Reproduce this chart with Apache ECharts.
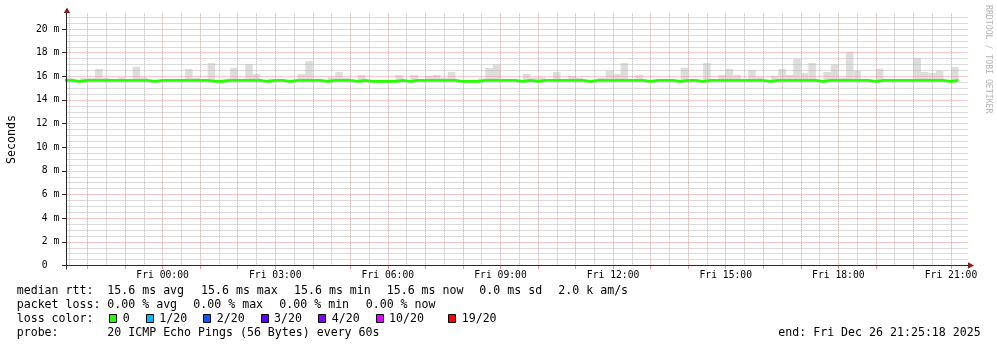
<!DOCTYPE html>
<html>
<head>
<meta charset="utf-8">
<script src="https://cdn.jsdelivr.net/npm/echarts@6/dist/echarts.min.js"></script>
<style>
html,body{margin:0;padding:0;background:#ffffff;}
#chart{width:997px;height:347px;}
</style>
</head>
<body>
<div id="chart"></div>
<script>
// ---------------- DATA ----------------
// 12-minute bins, hours relative to Fri 00:00 (first bin starts Thu 21:24)
const binFirstStartHour = -2.6;
const binLengthHours = 0.2;

// median rtt per bin (ms)
const medianMs = [
  15.66, 15.58, 15.66, 15.66, 15.66, 15.66, 15.66, 15.66, 15.66, 15.66,
  15.66, 15.58, 15.66, 15.66, 15.66, 15.66, 15.66, 15.66, 15.66, 15.58,
  15.58, 15.66, 15.66, 15.66, 15.66, 15.66, 15.58, 15.66, 15.66, 15.58,
  15.66, 15.66, 15.66, 15.66, 15.58, 15.66, 15.66, 15.66, 15.58, 15.66,
  15.58, 15.58, 15.58, 15.58, 15.66, 15.58, 15.66, 15.66, 15.66, 15.66,
  15.66, 15.66, 15.58, 15.58, 15.58, 15.66, 15.66, 15.66, 15.66, 15.66,
  15.58, 15.66, 15.58, 15.66, 15.66, 15.66, 15.66, 15.66, 15.66, 15.58,
  15.66, 15.66, 15.66, 15.66, 15.66, 15.66, 15.66, 15.58, 15.66, 15.66,
  15.66, 15.58, 15.66, 15.66, 15.58, 15.66, 15.66, 15.66, 15.66, 15.66,
  15.66, 15.66, 15.66, 15.58, 15.66, 15.66, 15.66, 15.66, 15.66, 15.66,
  15.58, 15.66, 15.66, 15.66, 15.66, 15.66, 15.66, 15.58, 15.66, 15.66,
  15.66, 15.66, 15.66, 15.66, 15.66, 15.66, 15.66, 15.58, 15.66
];

// highest ping of the 20 per bin (ms) -> top of the smoke
const smokeTopMs = [
  15.87, 15.58, 15.85, 15.85, 16.63, 15.85, 15.66, 15.92, 15.75, 16.80,
  15.92, 15.58, 15.66, 15.66, 15.66, 15.66, 16.63, 15.87, 15.75, 17.13,
  15.58, 15.80, 16.71, 15.80, 17.05, 16.20, 15.58, 15.80, 15.80, 15.58,
  15.66, 16.20, 17.30, 15.80, 15.58, 15.93, 16.37, 15.87, 15.58, 16.12,
  15.58, 15.58, 15.58, 15.58, 16.12, 15.58, 16.12, 15.66, 16.03, 16.12,
  15.87, 16.37, 15.58, 15.58, 15.58, 15.80, 16.70, 16.98, 15.66, 15.66,
  15.58, 16.20, 15.90, 15.92, 15.66, 16.37, 15.66, 16.03, 15.87, 15.58,
  15.66, 15.87, 16.46, 16.20, 17.14, 15.66, 16.12, 15.58, 15.66, 15.66,
  15.66, 15.58, 16.72, 15.66, 15.58, 17.14, 15.66, 16.12, 16.63, 16.12,
  15.66, 16.54, 15.95, 15.58, 16.03, 16.63, 16.12, 17.47, 16.29, 17.14,
  15.58, 16.37, 16.98, 15.87, 18.07, 16.46, 15.66, 15.58, 16.63, 15.66,
  15.66, 15.66, 15.66, 17.56, 16.37, 16.29, 16.46, 15.58, 16.80
];

// axis ticks / labels
const xAxisStartHour = -2.56;   // Thu ~21:26
const xAxisEndHour = 21.44;     // Fri ~21:26
const xLabelHours = [0, 3, 6, 9, 12, 15, 18, 21];
const xLabelTexts = ['Fri 00:00', 'Fri 03:00', 'Fri 06:00', 'Fri 09:00', 'Fri 12:00', 'Fri 15:00', 'Fri 18:00', 'Fri 21:00'];
const xMajorHours = [-2, -1, 0, 1, 2, 3, 4, 5, 6, 7, 8, 9, 10, 11, 12, 13, 14, 15, 16, 17, 18, 19, 20, 21];
const xMinorHours = [-2.5, -1.5, -0.5, 0.5, 1.5, 2.5, 3.5, 4.5, 5.5, 6.5, 7.5, 8.5, 9.5, 10.5, 11.5, 12.5, 13.5, 14.5, 15.5, 16.5, 17.5, 18.5, 19.5, 20.5];
const yAxisMax = 21.33;
const yTickValues = [0, 2, 4, 6, 8, 10, 12, 14, 16, 18, 20];
const yTickLabels = ['0  ', '2 m', '4 m', '6 m', '8 m', '10 m', '12 m', '14 m', '16 m', '18 m', '20 m'];
const yMinorValues = [0.5, 1, 1.5, 2.5, 3, 3.5, 4.5, 5, 5.5, 6.5, 7, 7.5, 8.5, 9, 9.5, 10.5, 11, 11.5, 12.5, 13, 13.5, 14.5, 15, 15.5, 16.5, 17, 17.5, 18.5, 19, 19.5, 20.5, 21];

// legend
const lossLabels = ['0', '1/20', '2/20', '3/20', '4/20', '10/20', '19/20'];
const lossColors = ['#26ff00', '#00b8ff', '#0059ff', '#5e00ff', '#7e00ff', '#dd00ff', '#ff0000'];
const rttItems = ['15.6 ms avg', '15.6 ms max', '15.6 ms min', '15.6 ms now', '0.0 ms sd', '2.0 k am/s'];
const lossItems = ['0.00 % avg', '0.00 % max', '0.00 % min', '0.00 % now'];
const probeText = '20 ICMP Echo Pings (56 Bytes) every 60s';
const endText = 'end: Fri Dec 26 21:25:18 2025';

// ---------------- STYLE / LAYOUT ----------------
const MONO = '"DejaVu Sans Mono", monospace';
const MGRID = '#e89494';
const GRID = '#b6b6b6';
const AXIS = '#2a2a2a';
const ARROW = '#801f1f';
const SMOKE = '#dddddd';
const legendFont = '11.6px ' + MONO;
const rowY = [291, 305, 319, 333];
const rttX = [107.3, 201, 294, 386.7, 479.3, 558.3];
const lossX = [107.3, 193.3, 279.3, 365.7];
const boxX = [109, 146, 203, 261, 318, 376, 448];
const boxLabelX = [122.7, 159.3, 216.7, 274, 331.7, 389, 461.7];

// ---------------- BUILD ----------------
const smokeData = [];
const medianLine = [];
for (let i = 0; i < medianMs.length; i++) {
  const t0 = binFirstStartHour + i * binLengthHours;
  const t1 = t0 + binLengthHours;
  smokeData.push([t0, t1, medianMs[i], smokeTopMs[i]]);
  medianLine.push([t0, medianMs[i]]);
}
medianLine.push([binFirstStartHour + medianMs.length * binLengthHours, medianMs[medianMs.length - 1]]);

const graphics = [];
function txt(x, y, s, extra) {
  graphics.push(Object.assign({
    type: 'text', x: x, y: y, silent: true,
    style: { text: s, font: legendFont, fill: '#000', align: 'left', verticalAlign: 'middle' }
  }, extra || {}));
}
txt(16.7, rowY[0], 'median rtt:');
rttItems.forEach((s, i) => txt(rttX[i], rowY[0], s));
txt(16.7, rowY[1], 'packet loss:');
lossItems.forEach((s, i) => txt(lossX[i], rowY[1], s));
txt(16.7, rowY[2], 'loss color:');
lossLabels.forEach((s, i) => {
  graphics.push({ type: 'rect', silent: true, shape: { x: boxX[i] + 0.5, y: 314.5, width: 7, height: 8 },
    style: { fill: lossColors[i], stroke: '#000', lineWidth: 1 } });
  txt(boxLabelX[i], rowY[2], s);
});
txt(16.7, rowY[3], 'probe:');
txt(107.3, rowY[3], probeText);
txt(778.3, rowY[3], endText);
// y axis title
graphics.push({ type: 'text', x: 11.5, y: 139.5, rotation: Math.PI / 2, silent: true,
  style: { text: 'Seconds', font: '11.6px ' + MONO, fill: '#000', align: 'center', verticalAlign: 'middle' } });
// watermark
graphics.push({ type: 'text', x: 988, y: 5, rotation: -Math.PI / 2, silent: true,
  style: { text: 'RRDTOOL / TOBI OETIKER', font: '8.2px ' + MONO, fill: '#b4b4b4', align: 'left', verticalAlign: 'middle' } });
// axis lines, extensions and arrows
graphics.push({ type: 'line', silent: true, z: 10, shape: { x1: 66.5, y1: 265.5, x2: 66.5, y2: 11 }, style: { stroke: AXIS, lineWidth: 1 } });
graphics.push({ type: 'line', silent: true, z: 10, shape: { x1: 66.5, y1: 265.5, x2: 66.5, y2: 269.5 }, style: { stroke: AXIS, lineWidth: 1 } });
graphics.push({ type: 'line', silent: true, z: 10, shape: { x1: 62, y1: 265.5, x2: 969, y2: 265.5 }, style: { stroke: AXIS, lineWidth: 1 } });
graphics.push({ type: 'polygon', silent: true, z: 11, shape: { points: [[63.8, 13], [67, 7.5], [70.2, 13]] }, style: { fill: ARROW } });
graphics.push({ type: 'polygon', silent: true, z: 11, shape: { points: [[968, 262.3], [974, 265.5], [968, 268.7]] }, style: { fill: ARROW } });

const chart = echarts.init(document.getElementById('chart'), null, { renderer: 'canvas' });
chart.setOption({
  animation: false,
  backgroundColor: '#ffffff',
  grid: { left: 66.5, top: 13.3, width: 901, height: 252.2 },
  xAxis: [
    {
      type: 'value', min: xAxisStartHour, max: xAxisEndHour, z: 2, position: 'bottom',
      axisLine: { show: false, onZero: false },
      axisTick: { show: true, customValues: xMajorHours, length: 3.5, lineStyle: { color: MGRID, width: 1 } },
      axisLabel: {
        customValues: xLabelHours, margin: 4.5, fontFamily: MONO, fontSize: 9.7, color: '#000',
        formatter: v => xLabelTexts[xLabelHours.indexOf(Math.round(v))] || ''
      },
      splitLine: { show: true, lineStyle: { color: MGRID, width: 1, type: [1, 1] } }
    },
    {
      type: 'value', min: xAxisStartHour, max: xAxisEndHour, z: 1.5, position: 'bottom',
      axisLine: { show: false, onZero: false },
      axisTick: { show: false, customValues: xMinorHours },
      axisLabel: { show: false },
      splitLine: { show: true, lineStyle: { color: GRID, width: 1, type: [1, 1] } }
    }
  ],
  yAxis: [
    {
      type: 'value', min: 0, max: yAxisMax, z: 2, position: 'left',
      axisLine: { show: false, onZero: false },
      axisTick: { show: true, customValues: yTickValues, length: 4.5, lineStyle: { color: AXIS, width: 1 } },
      axisLabel: {
        customValues: yTickValues, margin: 7.2, fontFamily: MONO, fontSize: 9.7, color: '#000',
        formatter: v => yTickLabels[yTickValues.indexOf(Math.round(v))] || ''
      },
      splitLine: { show: true, lineStyle: { color: MGRID, width: 1, type: [1, 1] } }
    },
    {
      type: 'value', min: 0, max: yAxisMax, z: 1.5, position: 'left',
      axisLine: { show: false, onZero: false },
      axisTick: { show: false, customValues: yMinorValues },
      axisLabel: { show: false },
      splitLine: { show: true, lineStyle: { color: GRID, width: 1, type: [1, 1] } }
    }
  ],
  series: [
    {
      type: 'custom', name: 'smoke', z: 1, xAxisIndex: 0, yAxisIndex: 0,
      data: smokeData,
      encode: { x: [0, 1], y: [2, 3] },
      renderItem: function (params, api) {
        const lo = api.value(2), hi = api.value(3);
        if (!(hi > lo)) return null;
        const p0 = api.coord([api.value(0), hi]);
        const p1 = api.coord([api.value(1), lo]);
        const cs = params.coordSys;
        const r = echarts.graphic.clipRectByRect(
          { x: p0[0], y: p0[1], width: p1[0] - p0[0], height: p1[1] - p0[1] },
          { x: cs.x, y: cs.y, width: cs.width, height: cs.height });
        if (!r) return null;
        return { type: 'rect', shape: r, style: { fill: SMOKE } };
      }
    },
    {
      type: 'line', name: 'median rtt', z: 3, xAxisIndex: 0, yAxisIndex: 0,
      data: medianLine, step: 'end', showSymbol: false, symbol: 'none', clip: true,
      lineStyle: { color: lossColors[0], width: 2.8 }
    }
  ],
  graphic: graphics
});
</script>
</body>
</html>
